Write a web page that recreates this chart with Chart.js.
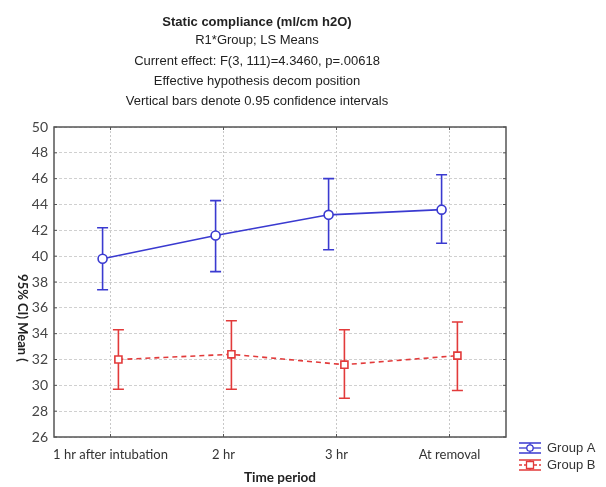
<!DOCTYPE html>
<html>
<head>
<meta charset="utf-8">
<script src="https://cdn.jsdelivr.net/npm/chart.js@4"></script>
<style>
  html, body { margin: 0; padding: 0; background: #fff; }
  #wrap { position: relative; width: 606px; height: 487px; }
</style>
</head>
<body>
<div id="wrap"><canvas id="chart" width="606" height="487"></canvas></div>
<script>
// data
const categories = ["1 hr after intubation", "2 hr", "3 hr", "At removal"];
const groupAMean = [39.8, 41.6, 43.2, 43.6];
const groupALow  = [37.4, 38.8, 40.5, 41.0];
const groupAHigh = [42.2, 44.3, 46.0, 46.3];
const groupBMean = [32.0, 32.4, 31.6, 32.3];
const groupBLow  = [29.7, 29.7, 29.0, 29.6];
const groupBHigh = [34.3, 35.0, 34.3, 34.9];
const yTicks = [26, 28, 30, 32, 34, 36, 38, 40, 42, 44, 46, 48, 50];
const titleLines = [
    "Static compliance (ml/cm h2O)",
    "R1*Group; LS Means",
    "Current effect: F(3, 111)=4.3460, p=.00618",
    "Effective hypothesis decom position",
    "Vertical bars denote 0.95 confidence intervals"
];

const blue = "#3a3ad0";
const red = "#e23a3a";
const offset = 0.07; // groups are drawn slightly apart on each category

function toPoints(values, shift) {
    return values.map((v, i) => ({ x: i + 1 + shift, y: v }));
}

// error bars, frame, titles and legend
const extras = {
    id: "extras",
    beforeDatasetsDraw(chart) {
        const { ctx, chartArea: a } = chart;
        const xs = chart.scales.x, ys = chart.scales.y;
        ctx.save();
        ctx.strokeStyle = "#555";
        ctx.lineWidth = 1.5;
        ctx.strokeRect(a.left, a.top, a.right - a.left, a.bottom - a.top);

        // small ticks inside the frame
        ctx.lineWidth = 1;
        ctx.beginPath();
        yTicks.forEach(v => {
            let py = ys.getPixelForValue(v);
            ctx.moveTo(a.left, py); ctx.lineTo(a.left + 3, py);
            ctx.moveTo(a.right, py); ctx.lineTo(a.right - 3, py);
        });
        categories.forEach((c, i) => {
            let px = xs.getPixelForValue(i + 1);
            ctx.moveTo(px, a.bottom); ctx.lineTo(px, a.bottom - 3);
            ctx.moveTo(px, a.top); ctx.lineTo(px, a.top + 3);
        });
        ctx.stroke();

        const bars = [
            [groupALow, groupAHigh, -offset, blue],
            [groupBLow, groupBHigh, offset, red]
        ];
        ctx.lineWidth = 1.6;
        bars.forEach(([lo, hi, shift, color]) => {
            ctx.strokeStyle = color;
            lo.forEach((l, i) => {
                let px = xs.getPixelForValue(i + 1 + shift);
                let y1 = ys.getPixelForValue(l);
                let y2 = ys.getPixelForValue(hi[i]);
                ctx.beginPath();
                ctx.moveTo(px, y1); ctx.lineTo(px, y2);
                ctx.moveTo(px - 5.5, y1); ctx.lineTo(px + 5.5, y1);
                ctx.moveTo(px - 5.5, y2); ctx.lineTo(px + 5.5, y2);
                ctx.stroke();
            });
        });
        ctx.restore();
    },
    afterDraw(chart) {
        const { ctx } = chart;
        ctx.save();
        ctx.fillStyle = "#222";
        ctx.textAlign = "center";
        ctx.textBaseline = "middle";
        let ty = [22, 40, 61, 81, 101];
        titleLines.forEach((t, i) => {
            ctx.font = (i === 0 ? "bold " : "") + "13px 'Liberation Sans', Arial, sans-serif";
            ctx.fillText(t, 257, ty[i]);
        });

        // x axis title
        ctx.font = "bold 13.5px Lato, sans-serif";
        ctx.fillText("Time period", 280, 478);

        // y axis title, reading downwards
        ctx.translate(22, 318);
        ctx.rotate(Math.PI / 2);
        ctx.font = "bold 13px Lato, sans-serif";
        ctx.fillText("95% CI) Mean (", 0, 0);
        ctx.restore();

        // legend
        ctx.save();
        ctx.font = "13px 'Liberation Sans', Arial, sans-serif";
        ctx.textBaseline = "middle";
        const items = [["Group A", blue, 448, "circle", []], ["Group B", red, 465, "square", [3, 2]]];
        items.forEach(([label, color, y, shape, dash]) => {
            ctx.strokeStyle = color;
            ctx.lineWidth = 1.3;
            ctx.beginPath();
            ctx.moveTo(519, y - 5); ctx.lineTo(541, y - 5);
            ctx.moveTo(519, y + 5); ctx.lineTo(541, y + 5);
            ctx.moveTo(530, y - 5); ctx.lineTo(530, y + 5);
            ctx.stroke();
            ctx.setLineDash(dash);
            ctx.beginPath();
            ctx.moveTo(519, y); ctx.lineTo(541, y);
            ctx.stroke();
            ctx.setLineDash([]);
            ctx.fillStyle = "#fff";
            ctx.beginPath();
            if (shape === "circle") ctx.arc(530, y, 3.2, 0, Math.PI * 2);
            else ctx.rect(526.5, y - 3.5, 7, 7);
            ctx.fill(); ctx.stroke();
            ctx.fillStyle = "#333";
            ctx.fillText(label, 547, y);
        });
        ctx.restore();
    }
};

new Chart(document.getElementById("chart"), {
    type: "line",
    data: {
        datasets: [
            {
                label: "Group A",
                data: toPoints(groupAMean, -offset),
                borderColor: blue,
                borderWidth: 1.6,
                pointStyle: "circle",
                pointRadius: 4.5,
                pointBackgroundColor: "#fff",
                pointBorderColor: blue,
                pointBorderWidth: 1.6,
                tension: 0
            },
            {
                label: "Group B",
                data: toPoints(groupBMean, offset),
                borderColor: red,
                borderWidth: 1.6,
                borderDash: [5, 4],
                pointStyle: "rect",
                pointRadius: 5,
                pointBackgroundColor: "#fff",
                pointBorderColor: red,
                pointBorderWidth: 1.6,
                tension: 0
            }
        ]
    },
    options: {
        responsive: false,
        animation: false,
        layout: { padding: { top: 127, right: 100, left: 0, bottom: 0 } },
        plugins: {
            legend: { display: false },
            title: { display: false },
            tooltip: { enabled: false }
        },
        scales: {
            x: {
                type: "linear",
                min: 0.5,
                max: 4.5,
                afterBuildTicks: scale => {
                    scale.ticks = categories.map((c, i) => ({ value: i + 1 }));
                },
                afterFit: scale => { scale.height = 50; },
                ticks: {
                    callback: v => categories[v - 1],
                    color: "#333",
                    font: { family: "Lato, sans-serif", size: 13 },
                    padding: 10,
                    maxRotation: 0,
                    autoSkip: false
                },
                grid: { color: "#c8c8c8", lineWidth: 1, drawTicks: false },
                border: { display: false, dash: [2, 2] }
            },
            y: {
                min: 26,
                max: 50,
                afterBuildTicks: scale => {
                    scale.ticks = yTicks.map(v => ({ value: v }));
                },
                afterFit: scale => { scale.width = 54; },
                ticks: {
                    color: "#444",
                    font: { family: "Lato, sans-serif", size: 14 },
                    padding: 6
                },
                grid: { color: "#d0d0d0", lineWidth: 1, drawTicks: false },
                border: { display: false, dash: [3, 2] }
            }
        }
    },
    plugins: [extras]
});
</script>
</body>
</html>
